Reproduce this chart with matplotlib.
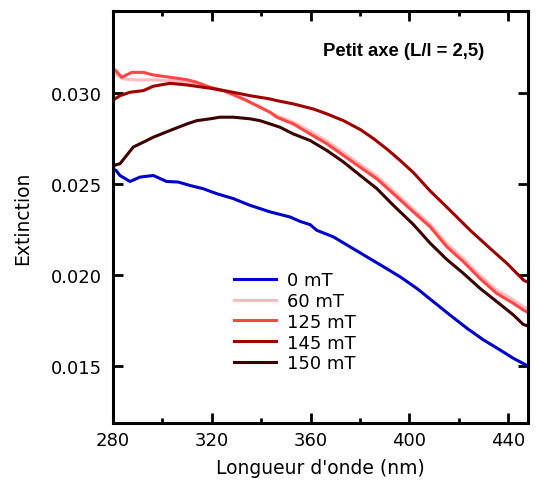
import matplotlib
matplotlib.use("Agg")
import matplotlib.pyplot as plt
from matplotlib.ticker import MultipleLocator

# --- data (wavelength in nm, extinction) ---
wl_0 = [280.5, 281.2, 282.8, 286.9, 290.9, 296.3, 301.7, 306.4, 311.2, 316.6, 322.0,
        328.7, 335.5, 343.6, 351.7, 355.7, 359.8, 362.5, 369.2, 376.0, 382.8, 389.5,
        396.2, 403.0, 409.7, 416.5, 423.3, 430.0, 436.7, 442.1, 445.9, 448.0]
ext_0 = [0.02580, 0.02575, 0.02547, 0.02514, 0.02538, 0.02547, 0.02514, 0.02511, 0.02492,
         0.02474, 0.02447, 0.02420, 0.02383, 0.02347, 0.02319, 0.02295, 0.02277, 0.02246,
         0.02210, 0.02155, 0.02100, 0.02046, 0.01991, 0.01927, 0.01854, 0.01780, 0.01708,
         0.01644, 0.01589, 0.01543, 0.01516, 0.01500]

wl_60 = [280.5, 281.2, 284.2, 289.6, 296.3, 305.8, 313.9, 319.3, 324.7, 332.8, 339.5,
         346.3, 353.0, 359.8, 366.6, 373.3, 380.0, 386.8, 393.5, 401.6, 408.4, 415.2,
         421.9, 428.6, 435.4, 442.1, 446.2, 448.0]
ext_60 = [0.03110, 0.03104, 0.03077, 0.03071, 0.03073, 0.03064, 0.03049, 0.03031, 0.03013,
          0.02967, 0.02922, 0.02875, 0.02840, 0.02790, 0.02736, 0.02672, 0.02608, 0.02544,
          0.02462, 0.02362, 0.02280, 0.02172, 0.02090, 0.01998, 0.01917, 0.01863, 0.01826,
          0.01815]

wl_125 = [280.2, 281.2, 283.5, 287.6, 292.3, 296.3, 303.1, 309.9, 313.9, 319.3, 324.7,
          332.8, 339.5, 343.6, 346.3, 353.0, 359.8, 366.6, 373.3, 380.0, 386.8, 393.5,
          401.6, 408.4, 415.2, 421.9, 428.6, 435.4, 442.1, 446.2, 448.0]
ext_125 = [0.03130, 0.03122, 0.03086, 0.03113, 0.03113, 0.03099, 0.03086, 0.03073, 0.03059,
           0.03031, 0.03013, 0.02967, 0.02922, 0.02894, 0.02867, 0.02830, 0.02775, 0.02721,
           0.02657, 0.02593, 0.02529, 0.02447, 0.02347, 0.02265, 0.02155, 0.02073, 0.01981,
           0.01899, 0.01845, 0.01808, 0.01795]

wl_145 = [280.5, 281.2, 282.8, 286.9, 292.3, 296.3, 303.1, 309.9, 319.3, 327.4, 335.5,
          343.6, 346.3, 353.0, 361.1, 366.6, 373.3, 380.0, 385.4, 390.9, 396.2, 401.6,
          408.4, 416.5, 424.6, 432.7, 439.5, 446.2, 448.0]
ext_145 = [0.02965, 0.02971, 0.02985, 0.03004, 0.03013, 0.03037, 0.03053, 0.03044, 0.03026,
           0.03007, 0.02985, 0.02967, 0.02958, 0.02940, 0.02912, 0.02885, 0.02848, 0.02800,
           0.02750, 0.02692, 0.02630, 0.02563, 0.02462, 0.02355, 0.02246, 0.02146, 0.02064,
           0.01972, 0.01960]

wl_150 = [280.5, 281.2, 282.8, 285.5, 288.2, 292.3, 296.3, 303.1, 309.9, 313.9, 319.3,
          323.3, 328.7, 335.5, 339.5, 343.6, 347.6, 353.0, 359.8, 366.6, 373.3, 380.0,
          386.8, 393.5, 401.6, 408.4, 415.2, 421.9, 428.6, 435.4, 442.1, 446.0, 448.0]
ext_150 = [0.02600, 0.02606, 0.02611, 0.02657, 0.02703, 0.02730, 0.02757, 0.02794, 0.02830,
           0.02848, 0.02858, 0.02867, 0.02867, 0.02858, 0.02848, 0.02830, 0.02812, 0.02775,
           0.02739, 0.02684, 0.02621, 0.02548, 0.02475, 0.02383, 0.02278, 0.02175, 0.02085,
           0.02009, 0.01927, 0.01854, 0.01781, 0.01730, 0.01720]

labels = ["0 mT", "60 mT", "125 mT", "145 mT", "150 mT"]
colors = ["#0000CC", "#FFBBBB", "#FF4545", "#A00000", "#3C0000"]
series = [(wl_0, ext_0), (wl_60, ext_60), (wl_125, ext_125), (wl_145, ext_145), (wl_150, ext_150)]

plt.rcParams['font.family'] = 'DejaVu Sans'

fig = plt.figure(figsize=(5.38, 4.81), dpi=100)
ax = fig.add_axes([113/538, 1 - 424/481, 415/538, 412/481])

for (x, y), lab, c in zip(series, labels, colors):
    ax.plot(x, y, color=c, lw=2.2, label=lab)

ax.set_xlim(280, 448)
ax.set_ylim(0.01188, 0.0345)
ax.xaxis.set_major_locator(MultipleLocator(40))
ax.xaxis.set_minor_locator(MultipleLocator(20))
ax.yaxis.set_major_locator(MultipleLocator(0.005))
ax.yaxis.set_major_formatter(matplotlib.ticker.FormatStrFormatter('%.3f'))

for s in ax.spines.values():
    s.set_linewidth(2.2)
ax.tick_params(which='both', direction='in', top=True, right=True, width=2, labelsize=13)
ax.tick_params(which='major', length=7)
ax.tick_params(which='minor', length=3.5)
ax.tick_params(axis='y', pad=8)
ax.tick_params(axis='x', pad=6)

ax.set_xlabel("Longueur d'onde (nm)", fontsize=13.5)
ax.set_ylabel("Extinction", fontsize=13.5)
ax.xaxis.set_label_coords(0.5, -0.085)
ax.yaxis.set_label_coords(-0.195, 0.5)

ax.text(0.70, 0.905, "Petit axe (L/l = 2,5)", transform=ax.transAxes, ha='center', va='center',
        fontsize=13.3, fontweight='bold', family='Liberation Sans')

ax.legend(loc='upper left', bbox_to_anchor=(0.292, 0.368), frameon=False, fontsize=13,
          handlelength=2.3, handletextpad=0.6, labelspacing=0.15, borderpad=0, borderaxespad=0)

fig.savefig("out.png", dpi=100)
